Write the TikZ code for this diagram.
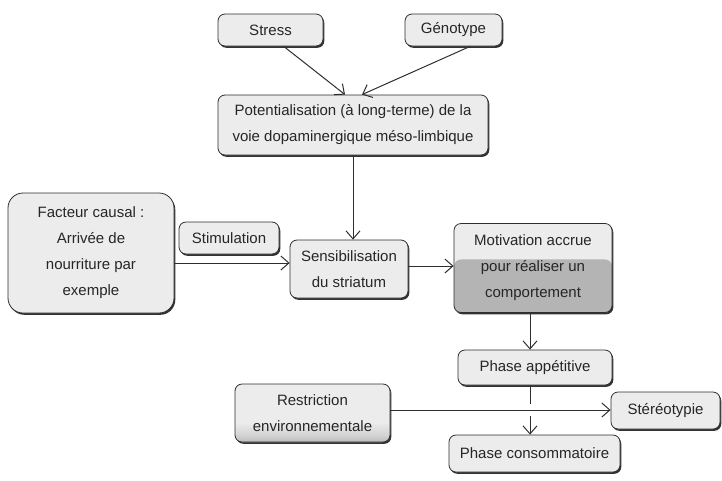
\documentclass[tikz,border=0pt]{standalone}
\usepackage{fontspec}
\setmainfont{Liberation Sans}
\usetikzlibrary{arrows.meta,shadows,calc}
\definecolor{boxfill}{HTML}{ECECEC}
\definecolor{boxdark}{HTML}{B4B4B4}
\definecolor{edge}{HTML}{2E2E2E}
\pgfdeclareverticalshading{restrshade}{100bp}{color(0bp)=(boxdark); color(25bp)=(boxdark!85!boxfill); color(31bp)=(boxdark!45!boxfill); color(42bp)=(boxfill); color(100bp)=(boxfill)}
\tikzset{
  box/.style={draw=edge, line width=0.8pt, fill=boxfill, rounded corners=7pt,
    align=center, inner sep=2pt, text=black!85,
    font=\fontsize{15}{26}\selectfont,
    general shadow={fill=black!80, shadow xshift=1.3pt, shadow yshift=-1.8pt}},
  arr/.style={draw=edge, line width=1pt, -{Straight Barb[length=8pt,width=14pt,line width=1pt]}},
  ln/.style={draw=edge, line width=1pt}
}
\begin{document}
\begin{tikzpicture}[x=1pt,y=-1pt]
\useasboundingbox (0,0) rectangle (722,480);
\node[box, minimum width=105pt, minimum height=32pt] (stress) at (270.5,30) {Stress};
\node[box, minimum width=97pt, minimum height=32pt] (geno) at (453.5,30) {Génotype};
\node[box, minimum width=270pt, minimum height=60pt] (pot) at (353,125) {Potentialisation (à long-terme) de la\\voie dopaminergique méso-limbique};
\node[box, minimum width=166pt, minimum height=120pt, rounded corners=15pt] (fact) at (91,253) {Facteur causal :\\Arrivée de\\nourriture par\\exemple};
\node[box, minimum width=100pt, minimum height=32pt] (stim) at (229,238) {Stimulation};
\node[box, minimum width=118pt, minimum height=58pt] (sens) at (349,269) {Sensibilisation\\du striatum};
\node[box, minimum width=158pt, minimum height=89pt,
  path picture={\fill[boxdark] (path picture bounding box.south west) rectangle ($(path picture bounding box.north east)!0.404!(path picture bounding box.south east)$);}]
  (motiv) at (533,268) {Motivation accrue\\pour réaliser un\\comportement};
\node[box, minimum width=154pt, minimum height=35pt] (app) at (535,367.5) {Phase appétitive};
\node[box, minimum width=155pt, minimum height=58pt, shading=restrshade] (restr) at (312.5,413) {Restriction\\environnementale};
\node[box, minimum width=109pt, minimum height=37pt] (stereo) at (665.5,410.5) {Stéréotypie};
\node[box, minimum width=171pt, minimum height=37pt] (cons) at (534.5,453.5) {Phase consommatoire};

\draw[arr] ($(stress.south)!0.25!(stress.south east)$) -- ($(pot.north)+(-8,0)$);
\draw[arr] ($(geno.south)!0.34!(geno.south east)$) -- ($(pot.north)+(9,0)$);
\draw[arr] (pot.south) -- (pot.south |- sens.north);
\draw[arr] ([yshift=-10pt]fact.east) -- ([yshift=-10pt]fact.east -| sens.west);
\draw[arr] ([yshift=3pt]sens.east) -- ([yshift=3pt]sens.east -| motiv.west);
\draw[arr] ([xshift=-3pt]motiv.south) -- ([xshift=-3pt]motiv.south |- app.north);
\coordinate (g1) at ([xshift=-5pt]app.south |- 0,404);
\coordinate (g2) at ([xshift=-5pt]app.south |- 0,416);
\draw[ln] ([xshift=-5pt]app.south) -- (g1);
\draw[arr] (g2) -- (g2 |- cons.north);
\draw[arr] ([yshift=3pt]restr.east) -- ([yshift=3pt]restr.east -| stereo.west);
\end{tikzpicture}
\end{document}
